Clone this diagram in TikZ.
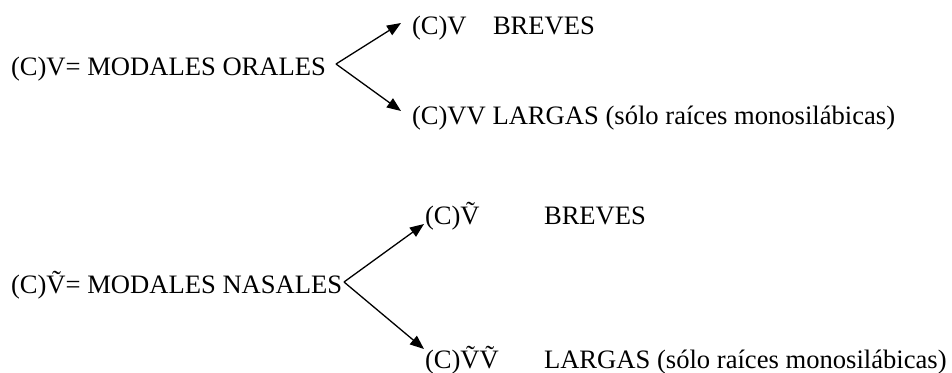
\documentclass[tikz,border=0pt]{standalone}
\usepackage{fontspec}
\setmainfont{Liberation Serif}
\usetikzlibrary{arrows.meta}

\tikzset{
  txt/.style={anchor=base west, inner sep=0pt, outer sep=0pt,
              font=\fontsize{26.6}{30}\selectfont},
  branch/.style={line width=1.3pt, -{Triangle[length=14pt,width=11pt]}}
}

\begin{document}
\begin{tikzpicture}[x=1pt, y=-1pt]
  \useasboundingbox (0,0) rectangle (952,372);

  % oral vowels
  \node[txt] (m1)  at (11,75)   {(C)V= MODALES ORALES};
  \node[txt] (b1)  at (412,34)  {(C)V};
  \node[txt] (b1t) at (493,34)  {BREVES};
  \node[txt] (l1)  at (412,124) {(C)VV LARGAS (sólo raíces monosilábicas)};

  \coordinate (apex1) at (336,64);
  \coordinate (tipb1) at (401,23);
  \coordinate (tipl1) at (401,111);
  \draw[branch] (apex1) -- (tipb1);
  \draw[branch] (apex1) -- (tipl1);

  % nasal vowels
  \node[txt] (m2)  at (11,293)  {(C)\~{V}= MODALES NASALES};
  \node[txt] (b2)  at (425,224) {(C)\~{V}};
  \node[txt] (b2t) at (544,224) {BREVES};
  \node[txt] (l2)  at (425,368) {(C)\~{V}\~{V}};
  \node[txt] (l2t) at (544,368) {LARGAS (sólo raíces monosilábicas)};

  \coordinate (apex2) at (344,282);
  \coordinate (tipb2) at (424,224);
  \coordinate (tipl2) at (424,349);
  \draw[branch] (apex2) -- (tipb2);
  \draw[branch] (apex2) -- (tipl2);
\end{tikzpicture}
\end{document}
